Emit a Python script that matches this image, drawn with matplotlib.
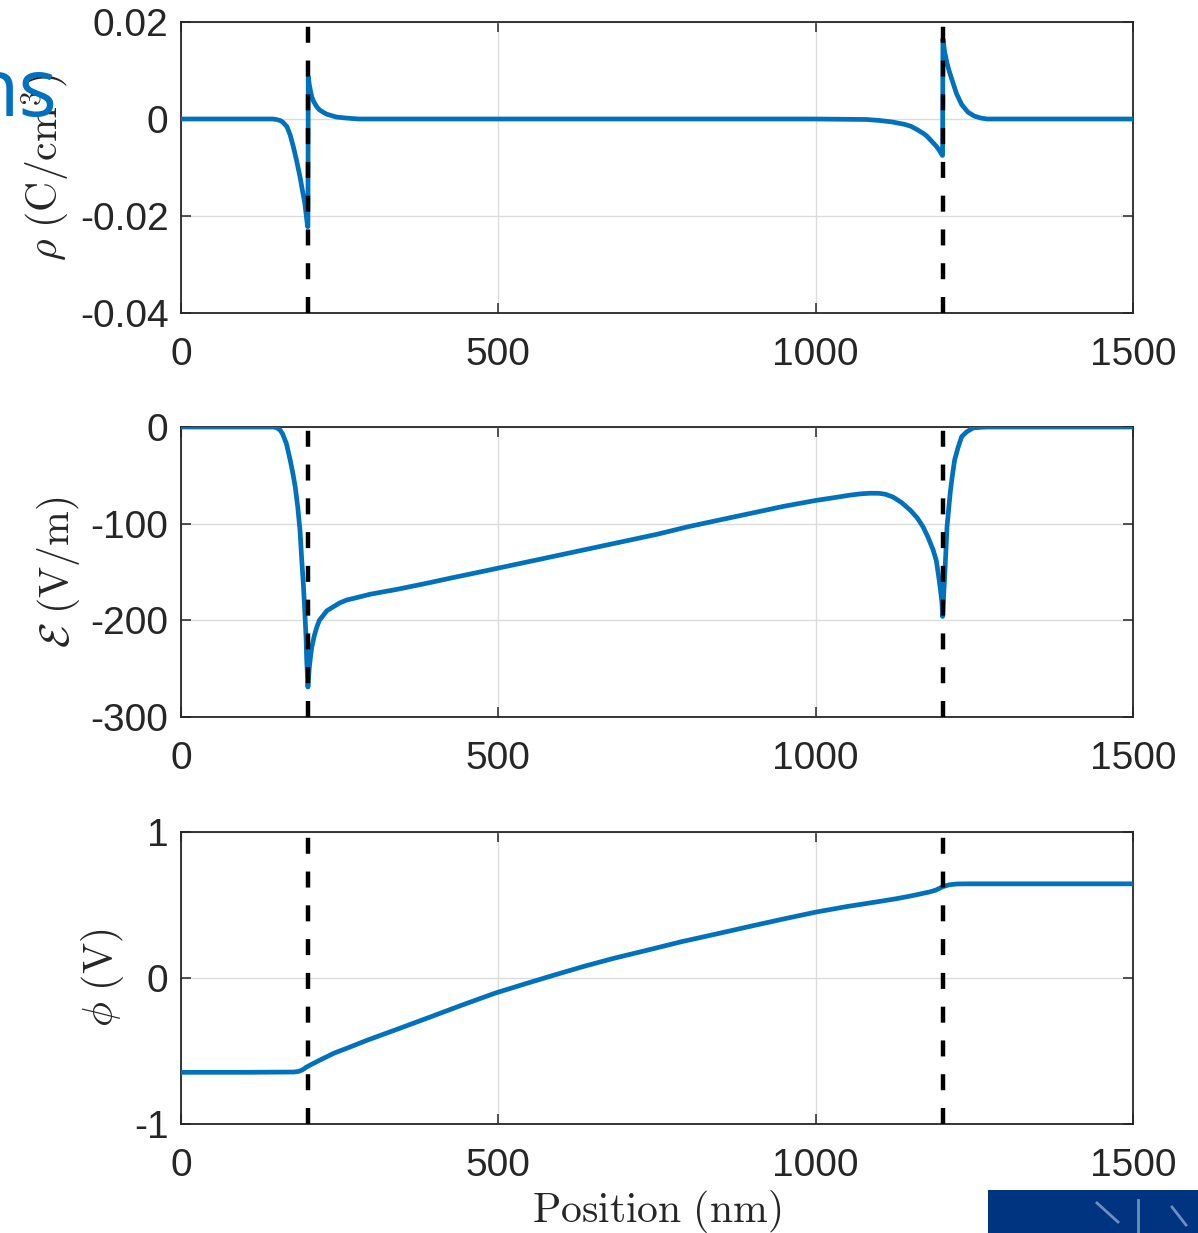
import numpy as np
import matplotlib
matplotlib.use("Agg")
import matplotlib.pyplot as plt
from matplotlib.patches import Rectangle

# charge density rho (C/cm^3)
x_rho = [0, 100, 145, 150, 156, 160, 167, 172, 177, 182, 187.5, 191, 195, 197, 199.5, 200,
         200.5, 202, 204, 206, 209, 214, 218, 224, 229.5, 237, 245, 260, 280,
         500, 1000, 1080, 1100, 1120, 1140, 1150, 1160, 1170, 1175, 1180, 1185, 1190, 1195, 1199.5, 1200,
         1200.5, 1203, 1207, 1211, 1215, 1222, 1230, 1240, 1250, 1260, 1270, 1500]
rho = [0, 0, 0, -0.0001, -0.0003, -0.0006, -0.0016, -0.0033, -0.0057, -0.0085, -0.0119, -0.0145, -0.0173,
       -0.0195, -0.0222, -0.0222,
       0.0087, 0.0072, 0.0058, 0.0046, 0.0036, 0.0025, 0.0019, 0.0014, 0.0010, 0.0007, 0.0004, 0.0002, 0,
       0, 0, -0.0001, -0.0003, -0.0006, -0.0011, -0.0015, -0.0022, -0.0030, -0.0035, -0.0042, -0.0049,
       -0.0056, -0.0065, -0.0075, -0.0075,
       0.0165, 0.0140, 0.0115, 0.0096, 0.0080, 0.0052, 0.0030, 0.0014, 0.0006, 0.0002, 0, 0]

# electric field (V/m)
x_E = [0, 100, 145, 150, 156, 160, 166, 172, 176, 180, 184, 187.5, 190, 193, 195, 197, 198, 200,
       202, 204, 206, 210, 214, 218, 224, 230, 240, 250, 261, 280, 298, 340, 392, 420, 471,
       550, 600, 650, 700, 750, 800, 850, 900, 950, 1000, 1030, 1054, 1070, 1086, 1100, 1110, 1122,
       1135, 1149, 1160, 1169, 1177, 1185, 1190, 1193, 1196, 1199, 1200,
       1202, 1204, 1207, 1210, 1212, 1215, 1219, 1224, 1230, 1238, 1248, 1260, 1270, 1500]
E = [0, 0, 0, -0.5, -3, -7, -17, -34, -47, -62, -83, -107, -135, -165, -190, -217, -240, -269,
     -250, -238, -228, -216, -207, -200, -195, -190, -186, -182, -179, -176, -173, -168, -161, -157, -150,
     -139, -132, -125, -118, -111, -103, -96, -89, -82, -76, -73, -70.5, -69.2, -68.5, -68.6, -69.6, -72.5,
     -78, -86, -94, -103, -114, -127, -138, -151, -165, -182, -196,
     -170, -145, -103, -82, -68, -52, -34, -22, -10, -5, -1, -0.3, 0, 0]

# electrostatic potential (V)
x_phi = [0, 100, 178, 185, 190, 194, 197, 205, 220, 241, 265, 294, 340, 394, 440, 494, 540, 588, 635,
         682, 739, 788, 844, 900, 950, 1001, 1050, 1100, 1127, 1150, 1180, 1190, 1200,
         1210, 1222, 1240, 1500]
phi = [-0.646, -0.646, -0.644, -0.640, -0.632, -0.622, -0.612, -0.593, -0.560, -0.515, -0.475, -0.425,
       -0.352, -0.265, -0.19, -0.105, -0.043, 0.02, 0.080,
       0.135, 0.195, 0.248, 0.302, 0.357, 0.405, 0.452, 0.490, 0.524, 0.543, 0.562, 0.590, 0.603, 0.625,
       0.638, 0.644, 0.645, 0.645]

interfaces = [200, 1200]
xticks = [0, 500, 1000, 1500]

panels = [
    (x_rho, rho, (-0.04, 0.02), [-0.04, -0.02, 0, 0.02], ['-0.04', '-0.02', '0', '0.02'],
     r'$\rho\ \mathrm{(C/cm^3)}$'),
    (x_E, E, (-300, 0), [-300, -200, -100, 0], ['-300', '-200', '-100', '0'],
     r'$\mathcal{E}\ \mathrm{(V/m)}$'),
    (x_phi, phi, (-1, 1), [-1, 0, 1], ['-1', '0', '1'], r'$\phi\ \mathrm{(V)}$'),
]

plt.rcParams['mathtext.fontset'] = 'cm'
plt.rcParams['font.family'] = ['Liberation Sans', 'DejaVu Sans']

W, H = 1198, 1233
fig = plt.figure(figsize=(W / 100, H / 100), dpi=100)
boxes = [(22, 313), (427, 717), (832, 1124)]
left, right = 181, 1133
blue = '#0072BD'

for (xs, ys, ylim, yt, ytl, ylab), (top, bot) in zip(panels, boxes):
    ax = fig.add_axes([left / W, 1 - bot / H, (right - left) / W, (bot - top) / H])
    ax.plot(xs, ys, color=blue, lw=3.4, zorder=3, solid_joinstyle='round')
    for xi in interfaces:
        ax.axvline(xi, color='black', lw=3.2, dashes=(3.6, 4.0), zorder=4)
    ax.set_xlim(0, 1500)
    ax.set_ylim(*ylim)
    ax.set_xticks(xticks)
    ax.set_xticklabels([str(t) for t in xticks])
    ax.set_yticks(yt)
    ax.set_yticklabels(ytl)
    ax.grid(True, color='#dcdcdc', lw=1.0, zorder=0)
    ax.tick_params(direction='in', length=7, width=1.1, colors='#262626', labelsize=28,
                   top=True, right=True)
    ax.tick_params(axis='x', pad=17)
    ax.tick_params(axis='y', pad=9)
    for s in ax.spines.values():
        s.set_color('#262626')
        s.set_linewidth(1.3)
    ax.set_ylabel(ylab, fontsize=30, color='#262626', labelpad=6)
    last = ax

last.set_xlabel(r'$\mathrm{Position\ (nm)}$', fontsize=30, color='#262626', labelpad=3)

# leftover slide decorations
fig.text(57 / W, 1 - 116 / H, 'ns', color='#0070C0', fontsize=58, family='Open Sans',
         ha='right', va='baseline')
fig.patches.append(Rectangle((988 / W, 0), (W - 988) / W, 43 / H, transform=fig.transFigure,
                             facecolor='#003380', edgecolor='none'))
for seg in [((1097, 1118), (1203, 1222)), ((1138, 1138), (1200, 1233)), ((1172, 1186), (1207, 1225))]:
    fig.add_artist(plt.Line2D([seg[0][0] / W, seg[0][1] / W], [1 - seg[1][0] / H, 1 - seg[1][1] / H],
                              transform=fig.transFigure, color='#6f8fbf', lw=2))

fig.savefig('out.png', dpi=100)
